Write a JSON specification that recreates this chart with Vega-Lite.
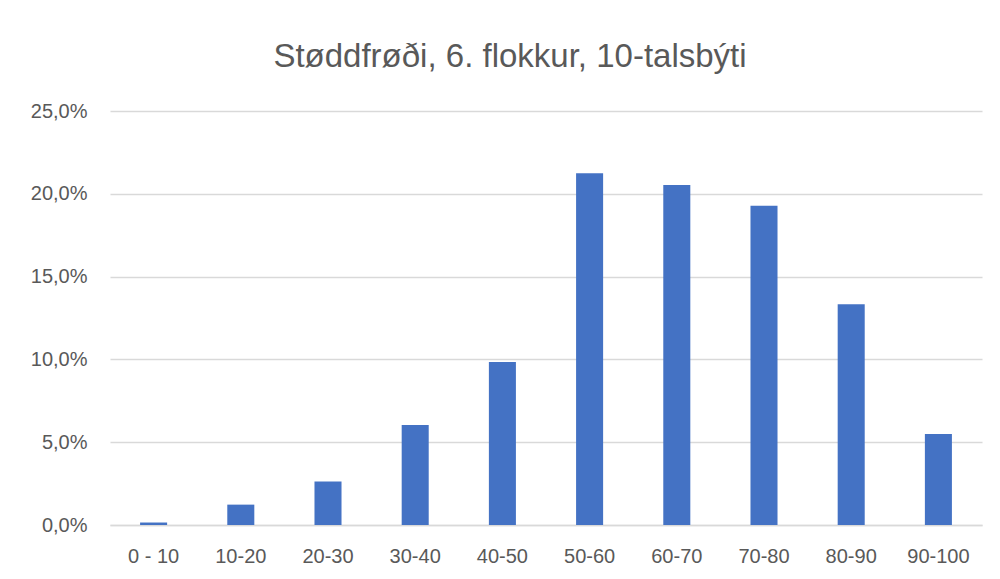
{
  "$schema": "https://vega.github.io/schema/vega-lite/v6.json",
  "autosize": {"type": "none"},
  "width": 872,
  "height": 414,
  "padding": {"left": 110, "top": 111, "right": 18, "bottom": 54},
  "background": "white",
  "config": {
    "locale": {"number": {"decimal": ",", "thousands": ".", "grouping": [3], "currency": ["", " kr."]}},
    "view": {"stroke": null},
    "font": "Liberation Sans"
  },
  "title": {
    "text": "Støddfrøði, 6. flokkur, 10-talsbýti",
    "anchor": "middle",
    "frame": "group",
    "dx": -36,
    "offset": 27,
    "fontSize": 33,
    "fontWeight": "normal",
    "color": "#595959",
    "font": "Liberation Sans"
  },
  "data": {
    "values": [
      {"bil": "0 - 10", "hlutfall": 0.0015},
      {"bil": "10-20", "hlutfall": 0.0123},
      {"bil": "20-30", "hlutfall": 0.0262},
      {"bil": "30-40", "hlutfall": 0.0604},
      {"bil": "40-50", "hlutfall": 0.0984},
      {"bil": "50-60", "hlutfall": 0.2124},
      {"bil": "60-70", "hlutfall": 0.2053},
      {"bil": "70-80", "hlutfall": 0.1928},
      {"bil": "80-90", "hlutfall": 0.1333},
      {"bil": "90-100", "hlutfall": 0.055}
    ]
  },
  "mark": {"type": "bar", "color": "#4472C4"},
  "encoding": {
    "x": {
      "field": "bil",
      "type": "nominal",
      "sort": null,
      "scale": {"paddingInner": 0.69, "paddingOuter": 0.345},
      "axis": {
        "title": null,
        "labelAngle": 0,
        "ticks": false,
        "domain": true,
        "domainColor": "#d9d9d9",
        "domainWidth": 1.5,
        "labelPadding": 21,
        "labelFontSize": 20,
        "labelColor": "#595959",
        "labelFont": "Liberation Sans"
      }
    },
    "y": {
      "field": "hlutfall",
      "type": "quantitative",
      "scale": {"domain": [0, 0.25], "nice": false},
      "axis": {
        "title": null,
        "format": ".1%",
        "values": [0, 0.05, 0.1, 0.15, 0.2, 0.25],
        "ticks": false,
        "domain": false,
        "grid": true,
        "gridColor": "#d9d9d9",
        "gridWidth": 1.5,
        "labelPadding": 23,
        "labelFontSize": 20,
        "labelColor": "#595959",
        "labelFont": "Liberation Sans"
      }
    }
  }
}
